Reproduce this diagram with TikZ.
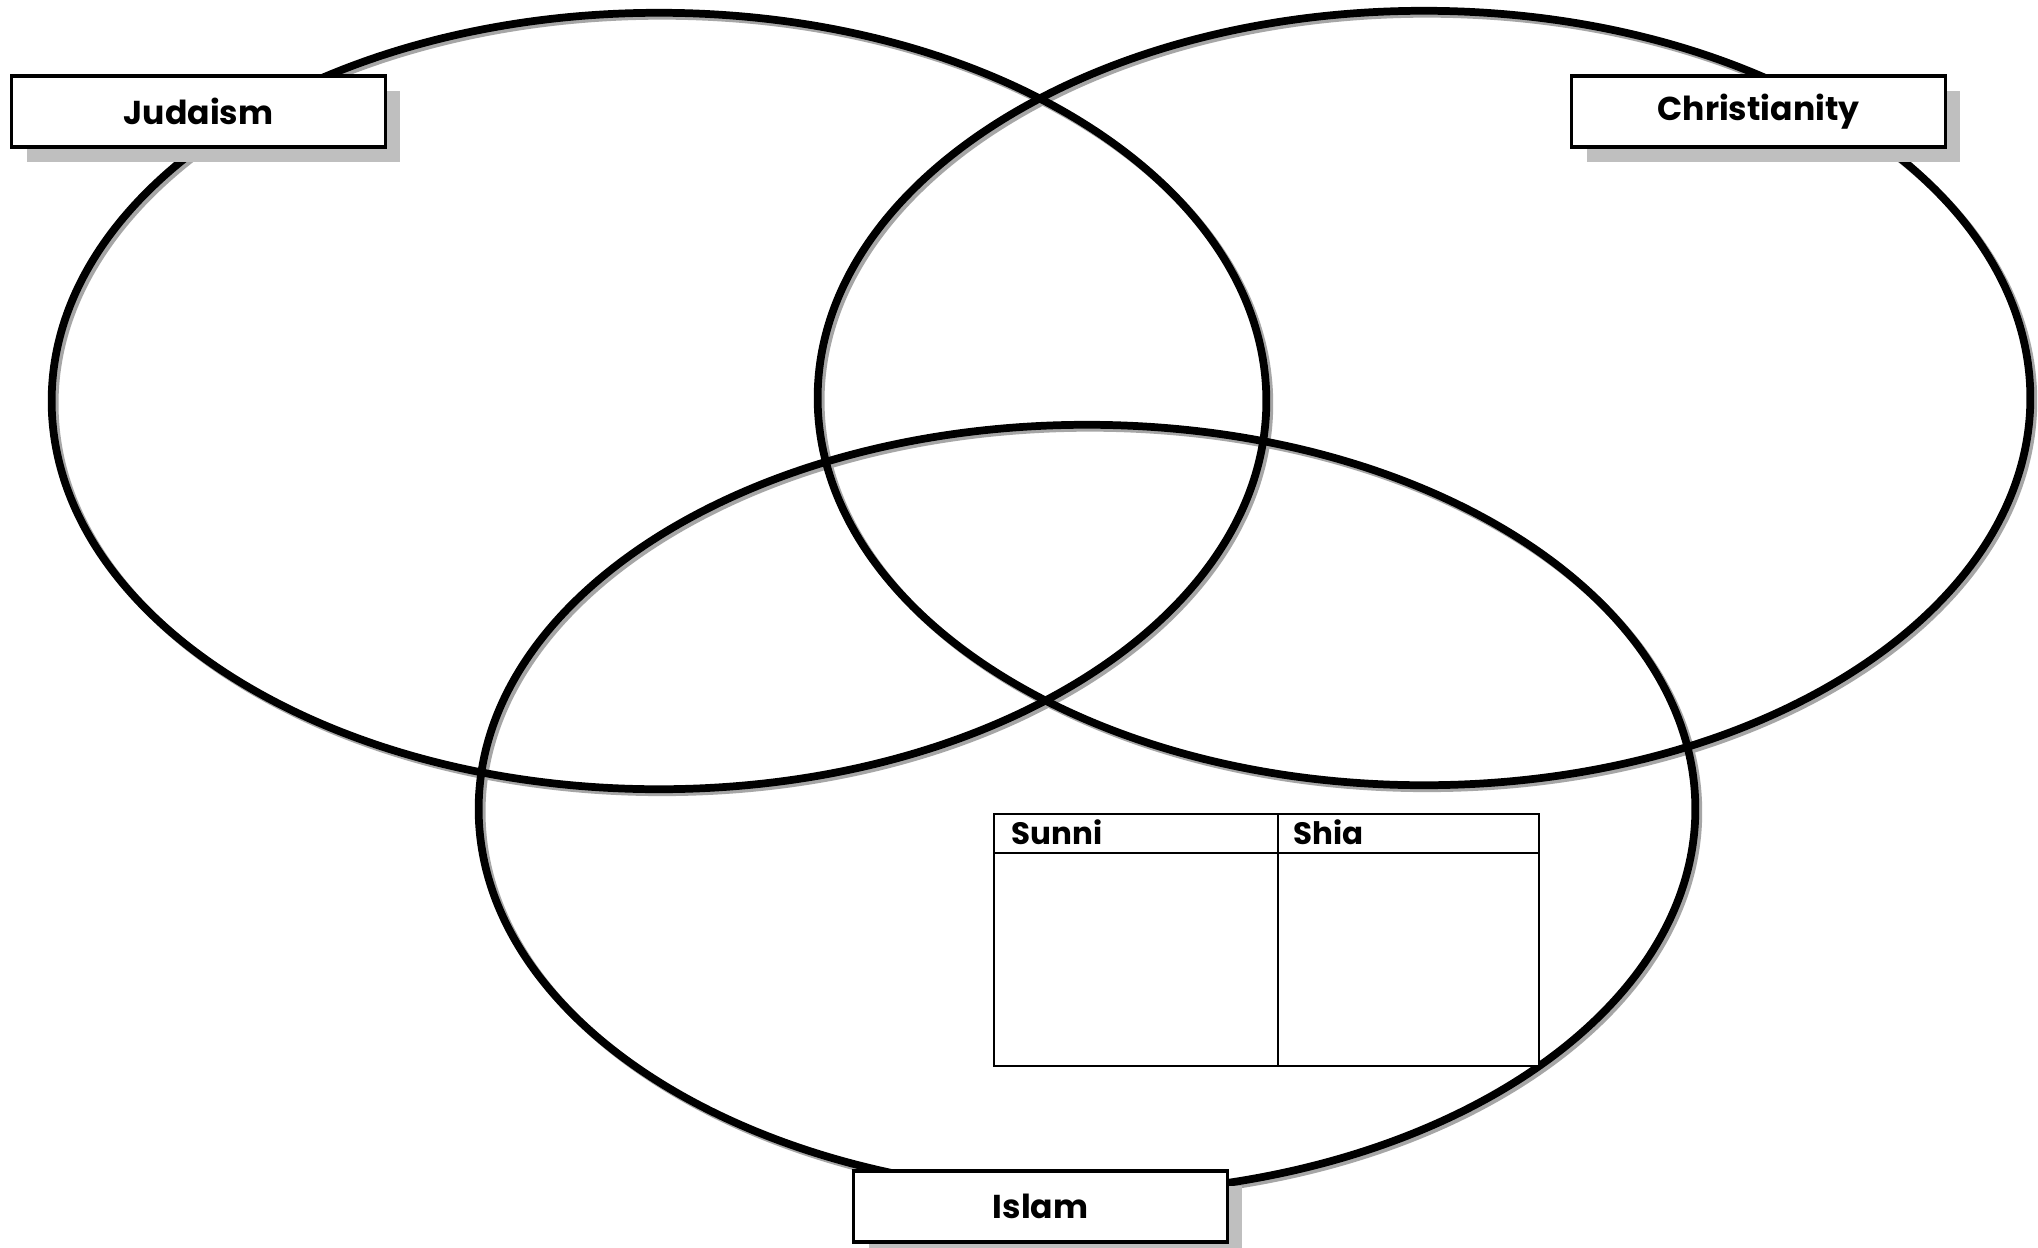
\documentclass[tikz,border=0pt]{standalone}
\usepackage{fontspec}
\setmainfont{Poppins}
\usetikzlibrary{shadows}
\begin{document}
\begin{tikzpicture}[x=0.01cm,y=-0.01cm,
    ring/.style={line width=2.2pt},
    ringshade/.style={line width=2.2pt,draw=black!35},
    faithbox/.style={draw,line width=0.9pt,fill=white,minimum width=3.73cm,minimum height=0.71cm,
      font=\fontsize{9.4}{11}\selectfont\bfseries,
      drop shadow={shadow xshift=0.15cm,shadow yshift=-0.15cm,fill=black!25,opacity=1}},
    headtext/.style={anchor=west,inner sep=0pt,font=\fontsize{8.8}{10}\selectfont\bfseries}]
  \useasboundingbox (0,0) rectangle (2038,1248);
  \fill[white] (0,0) rectangle (2038,1248);
  % the three circles
  \coordinate (jud) at (659,401);
  \coordinate (chr) at (1424,398);
  \coordinate (isl) at (1087,809);
  \foreach \c/\rx/\ry in {jud/6.07/3.88,chr/6.06/3.87,isl/6.08/3.84}
    \draw[ringshade] ([shift={(3,3)}]\c) ellipse [x radius=\rx cm,y radius=\ry cm];
  \foreach \c/\rx/\ry in {jud/6.07/3.88,chr/6.06/3.87,isl/6.08/3.84}
    \draw[ring] (\c) ellipse [x radius=\rx cm,y radius=\ry cm];
  % labels
  \node[faithbox] (judaism) at (198.5,111.5) {Judaism};
  \node[faithbox] (christianity) at (1758.5,111.5) {Christianity};
  \node[faithbox] (islam) at (1040.5,1206.5) {Islam};
  % sunni / shia table
  \coordinate (tabNW) at (994,814);
  \coordinate (tabSE) at (1539,1066);
  \coordinate (headL) at (994,853);
  \coordinate (headR) at (1539,853);
  \coordinate (midT) at (1278,814);
  \coordinate (midB) at (1278,1066);
  \draw[line width=0.8pt,fill=white] (tabNW) rectangle (tabSE);
  \draw[line width=0.8pt] (headL) -- (headR);
  \draw[line width=0.8pt] (midT) -- (midB);
  \node[headtext] (sunni) at (1011,832) {Sunni};
  \node[headtext] (shia) at (1293,832) {Shia};
\end{tikzpicture}
\end{document}
